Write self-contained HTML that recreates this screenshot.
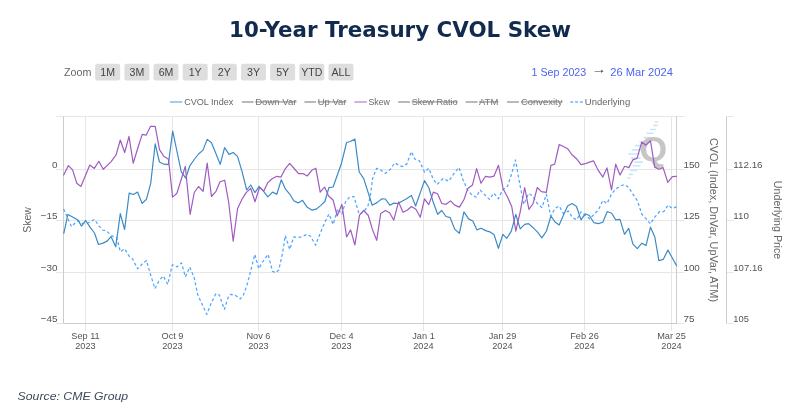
<!DOCTYPE html>
<html><head><meta charset="utf-8"><style>
html,body{margin:0;padding:0;background:#fff;width:800px;height:418px;overflow:hidden}
svg{display:block}
text{font-family:"Liberation Sans",Arial,sans-serif}
</style></head><body>
<svg width="800" height="418" viewBox="0 0 800 418">
<rect width="800" height="418" fill="#fff"/>
<text x="400" y="36.7" text-anchor="middle" font-size="21.6" font-weight="bold" fill="#112a4e" style="font-family:'DejaVu Sans',sans-serif" textLength="342" lengthAdjust="spacingAndGlyphs">10-Year Treasury CVOL Skew</text>
<text x="64" y="75.9" font-size="10.7" fill="#666">Zoom</text>
<g fill="#dedede">
<rect x="95.20" y="63.7" width="25" height="16.8" rx="2.2"/>
<rect x="124.36" y="63.7" width="25" height="16.8" rx="2.2"/>
<rect x="153.52" y="63.7" width="25" height="16.8" rx="2.2"/>
<rect x="182.68" y="63.7" width="25" height="16.8" rx="2.2"/>
<rect x="211.84" y="63.7" width="25" height="16.8" rx="2.2"/>
<rect x="241.00" y="63.7" width="25" height="16.8" rx="2.2"/>
<rect x="270.16" y="63.7" width="25" height="16.8" rx="2.2"/>
<rect x="299.32" y="63.7" width="25" height="16.8" rx="2.2"/>
<rect x="328.48" y="63.7" width="25" height="16.8" rx="2.2"/>
</g>
<g font-size="10.6" fill="#444" text-anchor="middle">
<text x="107.70" y="75.9">1M</text>
<text x="136.86" y="75.9">3M</text>
<text x="166.02" y="75.9">6M</text>
<text x="195.18" y="75.9">1Y</text>
<text x="224.34" y="75.9">2Y</text>
<text x="253.50" y="75.9">3Y</text>
<text x="282.66" y="75.9">5Y</text>
<text x="311.82" y="75.9">YTD</text>
<text x="340.98" y="75.9">ALL</text>
</g>
<text x="531.6" y="75.5" font-size="10.8" fill="#4c63f0" textLength="54.6" lengthAdjust="spacingAndGlyphs">1 Sep 2023</text>
<text x="0" y="0" font-size="12" fill="#333" text-anchor="middle" transform="translate(599.2 72.9) scale(1.25 1.0)">→</text>
<text x="610.3" y="75.5" font-size="10.8" fill="#4c63f0" textLength="62.6" lengthAdjust="spacingAndGlyphs">26 Mar 2024</text>
<g font-size="9.3" fill="#666">
<line x1="170" y1="102" x2="182.3" y2="102" stroke="#8ec0ea" stroke-width="1.6"/>
<text x="184.2" y="104.6" textLength="49.1" lengthAdjust="spacingAndGlyphs">CVOL Index</text>
<line x1="241.9" y1="102" x2="253.5" y2="102" stroke="#a8a8a8" stroke-width="1.6"/>
<text x="255.2" y="104.6" textLength="41.3" lengthAdjust="spacingAndGlyphs" fill="#777" text-decoration="line-through">Down Var</text>
<line x1="304.4" y1="102" x2="316" y2="102" stroke="#a8a8a8" stroke-width="1.6"/>
<text x="317.7" y="104.6" textLength="28.7" lengthAdjust="spacingAndGlyphs" fill="#777" text-decoration="line-through">Up Var</text>
<line x1="354.4" y1="102" x2="366.9" y2="102" stroke="#c89ee2" stroke-width="1.6"/>
<text x="368.4" y="104.6" textLength="21.5" lengthAdjust="spacingAndGlyphs">Skew</text>
<line x1="398.1" y1="102" x2="410" y2="102" stroke="#a8a8a8" stroke-width="1.6"/>
<text x="411.7" y="104.6" textLength="46.0" lengthAdjust="spacingAndGlyphs" fill="#777" text-decoration="line-through">Skew Ratio</text>
<line x1="465.6" y1="102" x2="477.5" y2="102" stroke="#a8a8a8" stroke-width="1.6"/>
<text x="479.0" y="104.6" textLength="19.3" lengthAdjust="spacingAndGlyphs" fill="#777" text-decoration="line-through">ATM</text>
<line x1="507" y1="102" x2="518.9" y2="102" stroke="#a8a8a8" stroke-width="1.6"/>
<text x="521.0" y="104.6" textLength="41.4" lengthAdjust="spacingAndGlyphs" fill="#777" text-decoration="line-through">Convexity</text>
<line x1="570.3" y1="102" x2="583.1" y2="102" stroke="#6fb6ff" stroke-width="1.6" stroke-dasharray="3,1.8"/>
<text x="584.8" y="104.6" textLength="45.4" lengthAdjust="spacingAndGlyphs">Underlying</text>
</g>
<g stroke="#e6e6e6" stroke-width="1" fill="none">
<path d="M56 116.5H684.5M56 169.5H684.5M56 220.5H684.5M56 272.5H684.5"/>
<path d="M85.5 116.5V331M172.5 116.5V331M258.5 116.5V331M341.5 116.5V331M423.5 116.5V331M502.5 116.5V331M584.5 116.5V331M671.5 116.5V331"/>
<path d="M56 323.5H63.5M677 323.5H684.5M726.5 116.5H733.5M726.5 169.5H733.5M726.5 220.5H733.5M726.5 272.5H733.5M726.5 323.5H733.5"/>
</g>
<g stroke="#c9e7f8" stroke-width="1.6" stroke-linecap="round"><line x1="655.4" y1="121.8" x2="657.7" y2="121.8"/><line x1="653.9" y1="125.4" x2="656.9" y2="125.4"/><line x1="650.8" y1="129.5" x2="655.4" y2="129.5"/><line x1="647" y1="133.3" x2="653.1" y2="133.3"/><line x1="644" y1="137.6" x2="649" y2="137.6"/><line x1="640" y1="141.7" x2="645.4" y2="141.7"/><line x1="635.5" y1="145.6" x2="642.4" y2="145.6"/><line x1="632.4" y1="149.9" x2="640.8" y2="149.9"/><line x1="628.6" y1="154" x2="639.3" y2="154"/><line x1="631.7" y1="158.1" x2="640" y2="158.1"/><line x1="634.7" y1="162.1" x2="642.4" y2="162.1"/><line x1="633.2" y1="165.8" x2="640" y2="165.8"/><line x1="630.9" y1="170.4" x2="636.3" y2="170.4"/><line x1="629.4" y1="174.4" x2="632.4" y2="174.4"/><line x1="627.8" y1="178" x2="630.1" y2="178"/></g>
<text x="0" y="0" font-size="36" font-weight="bold" fill="#c6c6c6" transform="translate(639.6 160.9) scale(0.99 1)">Q</text>
<g stroke="#cccccc" stroke-width="1" fill="none"><path d="M63.5 116.5V323.5H677M676.5 116.5V323.5M726.5 116.5V323.5"/></g>
<g font-size="9.9" fill="#555">
<text x="57.4" y="167.8" text-anchor="end">0</text>
<text x="57.4" y="218.8" text-anchor="end">−15</text>
<text x="57.4" y="270.8" text-anchor="end">−30</text>
<text x="57.4" y="321.8" text-anchor="end">−45</text>
<text x="683.4" y="167.8">150</text>
<text x="683.4" y="218.8">125</text>
<text x="683.4" y="270.8">100</text>
<text x="683.4" y="321.8">75</text>
<text x="733.3" y="167.8" textLength="29.3" lengthAdjust="spacingAndGlyphs">112.16</text>
<text x="733.3" y="218.8" textLength="15.6" lengthAdjust="spacingAndGlyphs">110</text>
<text x="733.3" y="270.8" textLength="29.3" lengthAdjust="spacingAndGlyphs">107.16</text>
<text x="733.3" y="321.8" textLength="15.6" lengthAdjust="spacingAndGlyphs">105</text>
</g>
<g font-size="9.9" fill="#555" text-anchor="middle">
<text x="85.5" y="338.6" transform="translate(85.5 0) scale(0.93 1) translate(-85.5 0)">Sep 11</text><text x="85.5" y="349.2" transform="translate(85.5 0) scale(0.93 1) translate(-85.5 0)">2023</text>
<text x="172.5" y="338.6" transform="translate(172.5 0) scale(0.93 1) translate(-172.5 0)">Oct 9</text><text x="172.5" y="349.2" transform="translate(172.5 0) scale(0.93 1) translate(-172.5 0)">2023</text>
<text x="258.5" y="338.6" transform="translate(258.5 0) scale(0.93 1) translate(-258.5 0)">Nov 6</text><text x="258.5" y="349.2" transform="translate(258.5 0) scale(0.93 1) translate(-258.5 0)">2023</text>
<text x="341.5" y="338.6" transform="translate(341.5 0) scale(0.93 1) translate(-341.5 0)">Dec 4</text><text x="341.5" y="349.2" transform="translate(341.5 0) scale(0.93 1) translate(-341.5 0)">2023</text>
<text x="423.5" y="338.6" transform="translate(423.5 0) scale(0.93 1) translate(-423.5 0)">Jan 1</text><text x="423.5" y="349.2" transform="translate(423.5 0) scale(0.93 1) translate(-423.5 0)">2024</text>
<text x="502.5" y="338.6" transform="translate(502.5 0) scale(0.93 1) translate(-502.5 0)">Jan 29</text><text x="502.5" y="349.2" transform="translate(502.5 0) scale(0.93 1) translate(-502.5 0)">2024</text>
<text x="584.5" y="338.6" transform="translate(584.5 0) scale(0.93 1) translate(-584.5 0)">Feb 26</text><text x="584.5" y="349.2" transform="translate(584.5 0) scale(0.93 1) translate(-584.5 0)">2024</text>
<text x="671.5" y="338.6" transform="translate(671.5 0) scale(0.93 1) translate(-671.5 0)">Mar 25</text><text x="671.5" y="349.2" transform="translate(671.5 0) scale(0.93 1) translate(-671.5 0)">2024</text>
</g>
<g font-size="10.5" fill="#666" text-anchor="middle">
<text transform="translate(31,220) rotate(-90)">Skew</text>
<text transform="translate(710,220) rotate(90)" font-size="10.8" textLength="164" lengthAdjust="spacingAndGlyphs">CVOL (Index, DnVar, UpVar, ATM)</text>
<text transform="translate(773.5,220) rotate(90)" font-size="10.6" textLength="78.5" lengthAdjust="spacingAndGlyphs">Underlying Price</text>
</g>
<g fill="none" stroke-linejoin="round" stroke-linecap="round">
<path d="M63.6 208.9 L67.2 217.2 L71.5 226.6 L75.1 223 L78 220.8 L83 223.7 L88 223 L94.5 219.4 L98.8 225.9 L103.1 230.2 L106 230.5 L109.6 233.8 L113.2 236.6 L116.8 237.6 L120.3 251.7 L124.6 248.8 L129 256 L132.6 259 L137.6 268.8 L142.7 263.5 L146.5 260.4 L150.2 273.5 L154.9 288.6 L159.4 280.2 L163.3 276 L167.8 284.4 L172.3 264.8 L177 266.8 L181.5 263 L185.4 276.8 L189.7 267 L194.2 277.6 L197.6 294.3 L201.8 303.6 L206.8 314.4 L211 303.6 L216 293.5 L219.4 295.2 L224.4 309.4 L228.6 296 L231.1 294.3 L235.3 295.2 L240.3 298.9 L243.3 295.2 L247 285.1 L250.6 271.3 L254.75 254.4 L258.75 268.75 L262.25 262.5 L268.1 254.4 L272.5 271.3 L275.6 272.8 L278.75 270 L282.5 253.75 L285.25 235.6 L289.75 249.4 L293.75 236.9 L296.9 237.5 L301.25 236.9 L306.9 234.4 L310.6 236.25 L315.6 245.2 L320 233.75 L325 221.9 L329 214 L333.2 224.4 L337.7 208.8 L341.9 214.3 L345.6 201.4 L349.4 197.3 L353.9 196.5 L359.2 214.3 L363.5 211.8 L367.8 206.5 L370.2 197 L372.5 178.75 L376.6 168.3 L381.1 170.2 L385.3 173.4 L390.2 169.6 L394.7 162.9 L398.7 165.1 L402.2 166.6 L406.7 164.1 L411.5 151.6 L414.8 159.1 L419.3 160.6 L424.6 172.2 L428.8 168.3 L433.1 179 L437.2 184.4 L443.1 178.5 L448.75 181.25 L453.75 173.75 L459 167.5 L463.1 180 L467.5 190 L471.9 195 L476.25 197.25 L480 190 L484.4 194.4 L489.4 199.4 L493.75 193.1 L498.5 198.75 L502.5 190 L507.5 186.25 L511.25 175 L515.5 160 L519.7 183.8 L523.9 204.3 L528.5 193.4 L532.6 195.9 L537.3 203.5 L541.9 207.6 L546.4 194.2 L550.6 216 L555 208.5 L559.2 206 L563.4 213.5 L568.5 211 L572.6 217.7 L576.8 219.9 L581 211.8 L585.2 215.2 L589.9 218.9 L593.9 214.3 L598.3 210.2 L602.8 200.4 L607 203.5 L611.7 193.7 L616.2 188.7 L620.4 185.9 L624.6 184.7 L628.8 187.5 L632.9 194.2 L637.5 200.9 L641.8 214.3 L646.3 218.9 L650.5 223.9 L654.7 217.2 L659.7 211.5 L663.9 211.5 L668.1 205.1 L672.3 208.5 L676.5 206.8" stroke="#4da6ff" stroke-width="1.25" stroke-dasharray="3,2.4" stroke-linecap="butt"/>
<path d="M63.8 233.3 L67.9 214.4 L74.4 218 L78 220.1 L81.5 226.1 L85.6 220.5 L90.2 227.3 L94.5 233 L98.5 244.5 L103.1 243.1 L107.4 240.9 L111 236.6 L115.7 246.8 L120.3 213.6 L124.6 229.5 L129.2 193.1 L133.4 194.5 L137.5 192.1 L142.2 203.4 L146.5 199.2 L150.7 183.4 L155.2 143.9 L159.4 162 L163.9 164.2 L168.3 164.6 L172.7 131.2 L177.2 152.5 L181.2 171.6 L185.7 178.2 L189.8 165.8 L194.6 159 L198.6 154 L203 150.1 L207.2 139.4 L211.5 142.8 L216 153.7 L220.2 164.3 L224.6 147.6 L229 154.4 L233.2 152.5 L237.5 156.4 L242 171.3 L246.7 190 L250.7 185 L255 192.6 L259.1 186.4 L263.8 191.7 L267.9 196.8 L272.5 192.1 L276.8 194.2 L281.3 179.8 L285.5 189.2 L289.9 194.3 L293.8 200.7 L298.1 202.9 L302.5 200.3 L306.9 206.9 L311.8 210.1 L316.1 209.2 L320.6 205.6 L324.9 201.5 L328.9 187.6 L333.1 187 L341.5 163.2 L346.6 142.5 L350.3 141.5 L354.9 139.1 L359.2 172 L363.7 178.6 L372.2 205.2 L377.3 202.4 L381.9 198.8 L385.3 199 L389.8 205.2 L393.8 203.1 L398 203.5 L402.5 200.9 L406.9 198.4 L411.4 195.4 L415.6 206 L424.5 180.6 L428.7 187.5 L433.1 201.8 L437.6 214.3 L441.8 210.5 L446 216.5 L450.2 217.7 L454.8 229.4 L459.4 233.3 L463.9 211.8 L468.6 218.9 L472.8 221 L477 229.9 L481.1 228.2 L485.7 230.6 L490 231.9 L494 234.4 L498.4 248.3 L502.9 234.4 L506.8 238.3 L511.3 231.1 L515.8 214.3 L520.2 228.9 L524.7 224.4 L528.5 223.6 L532.6 227.2 L537.3 231.9 L541.9 237.8 L546.5 231 L550.9 216 L555 221.9 L559.2 224.9 L563.4 215.2 L567.6 206 L572.1 203.5 L576.5 206.5 L581 219.9 L585.2 213.8 L589.4 215.5 L593.9 222.7 L598.3 223.6 L602.8 222.2 L607.3 211.5 L611.7 213.2 L615.7 219.9 L620 219.4 L624.5 234.3 L628.7 228.3 L632.9 244.1 L637.3 248.7 L641.9 243.2 L646 245.6 L650.5 227.2 L654.8 237 L658.9 260.6 L663.2 259.4 L667.9 250.1 L676.6 265.7" stroke="#3c8bc6" stroke-width="1.2"/>
<path d="M63.7 175 L68.4 165.6 L72.6 169.9 L76.8 183.3 L80.9 186.4 L89.8 165.1 L94.3 168.4 L98.9 161.2 L103.2 169.3 L107.4 165.4 L111.1 161.6 L116.1 154.9 L120.3 140 L124.7 152.5 L129 136.4 L133.2 163.2 L137.9 147.8 L142.2 134.4 L146.1 135.2 L150.6 126.3 L155.2 126.3 L159.5 149.6 L163.8 156.3 L168.5 159.3 L172.6 197.1 L176.9 193.2 L185.3 166.4 L190.1 214.3 L194.3 192.5 L198.5 186.5 L203.1 191.3 L207.2 163.2 L211.5 196.5 L216 191.3 L220 181.8 L224.7 180.2 L228.6 201.8 L233.2 241.2 L237.6 208.5 L242 199.3 L246.2 192.6 L250.7 188.4 L255 201.8 L259.6 187.5 L263.8 190.9 L267.9 182.6 L272.1 178.8 L276.8 176.3 L281 177.1 L285.2 168.8 L289.7 163.4 L294.2 168.5 L298.5 173.6 L302.8 173.5 L307.2 176 L311.8 170.3 L315.8 168.2 L320.2 192.2 L324.6 187.1 L328.6 196 L333.2 200.3 L337.2 216 L341.9 204.3 L346.6 237 L350.6 229.9 L354.9 245 L359.5 215.2 L363.7 210.5 L368.3 215.5 L372.4 229.4 L376.7 240.3 L380.7 213.5 L385.4 210.5 L389.6 212.7 L393.8 220.2 L398.5 201.8 L403 212.2 L407.2 210.2 L411.4 206.5 L415.9 209.3 L420.3 217.2 L424.5 198.8 L428.7 204.6 L433.4 192.1 L437.6 193.7 L441.8 203.5 L446 204.3 L450.5 200.9 L454.8 205.1 L459.4 207.1 L463.9 199.8 L467.8 188.4 L472.5 184.9 L476.6 168.6 L481 183.3 L485.5 176.3 L489.8 177.2 L494 176.1 L498.5 165.3 L503.1 188.75 L507.5 197 L511.8 206.8 L515.8 231.1 L520.2 211.8 L524.7 187.5 L528.9 209.3 L533.1 203.5 L537.3 187.5 L541.4 191.7 L546.3 192.4 L550.9 165.4 L554.7 164.2 L559.2 144.5 L563.4 146.5 L567.6 148.7 L571.8 154.5 L576.5 158.7 L581 164.6 L585.2 163.7 L589.4 162.1 L593.6 160.9 L598.3 170.4 L602.8 177.1 L607 167.9 L611.5 190 L615.7 164.2 L620 175 L624.6 166.3 L628.8 167.6 L632.9 159.9 L637.1 158.2 L641.8 142 L645.8 145.3 L650.5 140.8 L654.7 167.1 L658.9 169.3 L663.1 167.6 L667.8 182.4 L672.3 176.6 L676.5 176.3" stroke="#9f5cc0" stroke-width="1.2"/>
</g>
<text x="17.6" y="400" font-size="11.2" font-style="italic" fill="#3d4a5a" textLength="110.6" lengthAdjust="spacingAndGlyphs">Source: CME Group</text>
</svg>
</body></html>
